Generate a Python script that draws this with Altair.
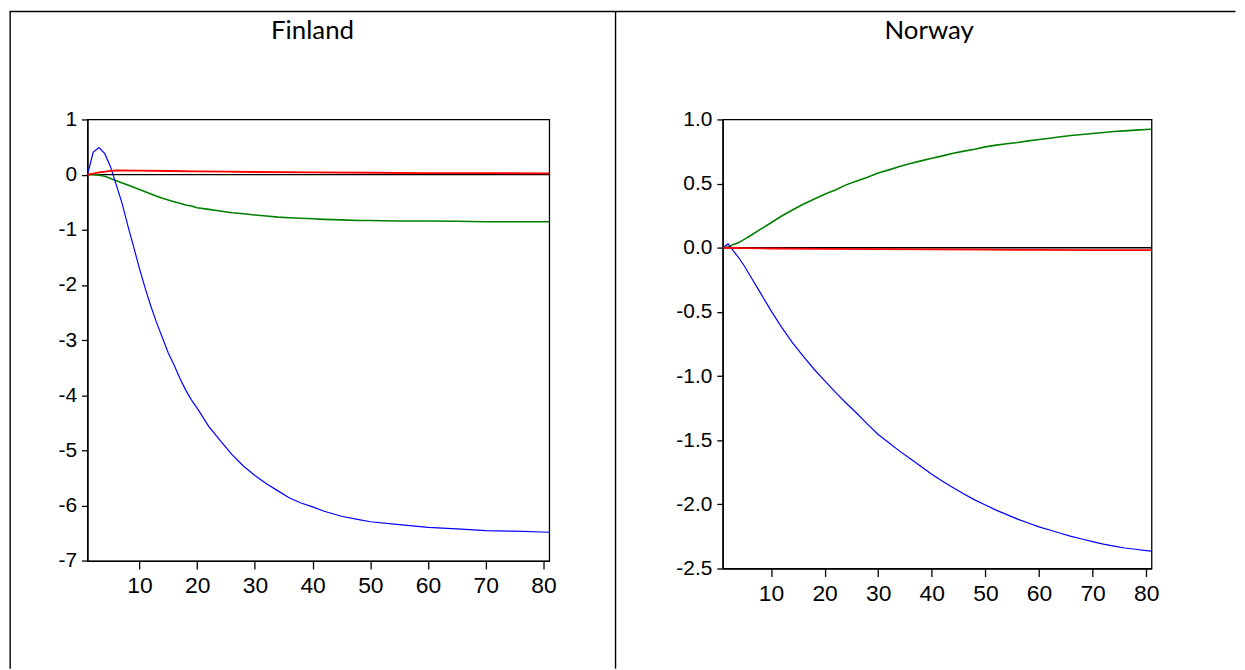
import altair as alt
import pandas as pd

# ---------------- data ----------------
titles = ["Finland", "Norway"]
x_ticks = [10, 20, 30, 40, 50, 60, 70, 80]
fin_y_ticks = [-7, -6, -5, -4, -3, -2, -1, 0, 1]
nor_y_ticks = [-2.5, -2.0, -1.5, -1.0, -0.5, 0.0, 0.5, 1.0]

fin_periods = [1, 2, 3, 4, 5, 6, 7, 8, 9, 10, 11, 12, 13, 14, 15, 16, 17, 18, 19, 20,
               22, 24, 26, 28, 30, 32, 34, 36, 38, 40, 42, 45, 48, 50, 55, 60, 65, 70, 75, 81]
fin_blue = [0, 0.41, 0.49, 0.38, 0.14, -0.19, -0.52, -0.93, -1.31, -1.70,
            -2.06, -2.39, -2.69, -2.96, -3.23, -3.45, -3.69, -3.90, -4.08, -4.23,
            -4.56, -4.82, -5.07, -5.28, -5.45, -5.60, -5.73, -5.86, -5.95, -6.02, -6.10,
            -6.19, -6.25, -6.29, -6.34, -6.39, -6.42, -6.45, -6.46, -6.48]
fin_green = [0, 0.0, -0.01, -0.03, -0.07, -0.11, -0.15, -0.19, -0.23, -0.27,
             -0.31, -0.35, -0.39, -0.43, -0.46, -0.49, -0.52, -0.55, -0.57, -0.60,
             -0.63, -0.66, -0.69, -0.71, -0.73, -0.75, -0.77, -0.78, -0.79, -0.80, -0.81,
             -0.82, -0.83, -0.83, -0.84, -0.84, -0.845, -0.855, -0.855, -0.855]
fin_red_periods = [1, 2, 3, 4, 5, 6, 10, 15, 20, 25, 30, 40, 50, 60, 70, 81]
fin_red = [0, 0.02, 0.04, 0.055, 0.068, 0.075, 0.073, 0.066, 0.06, 0.053, 0.048,
           0.042, 0.034, 0.029, 0.026, 0.024]

nor_periods = [1, 2, 3, 4, 5, 6] + list(range(8, 81, 2)) + [81]
nor_blue = [0, 0.03, -0.026, -0.078, -0.14, -0.21, -0.35, -0.49, -0.62, -0.74, -0.845,
            -0.945, -1.035, -1.125, -1.21, -1.29, -1.375, -1.455, -1.52, -1.585, -1.645,
            -1.705, -1.765, -1.82, -1.87, -1.92, -1.965, -2.005, -2.045, -2.08, -2.115,
            -2.145, -2.175, -2.20, -2.225, -2.25, -2.27, -2.29, -2.31, -2.325, -2.34,
            -2.35, -2.36, -2.365]
nor_green = [0, 0.005, 0.026, 0.04, 0.065, 0.09, 0.143, 0.195, 0.247, 0.294, 0.339,
             0.378, 0.417, 0.45, 0.49, 0.52, 0.55, 0.583, 0.607, 0.633, 0.656, 0.677,
             0.698, 0.716, 0.737, 0.753, 0.768, 0.786, 0.80, 0.81, 0.82, 0.833, 0.844,
             0.854, 0.865, 0.875, 0.883, 0.89, 0.898, 0.906, 0.911, 0.917, 0.922, 0.924]
nor_red_periods = [1, 5, 10, 20, 30, 40, 50, 60, 70, 81]
nor_red = [0, -0.003, -0.006, -0.009, -0.011, -0.013, -0.015, -0.017, -0.018, -0.019]

# ---------------- styling ----------------
BLUE, GREEN, RED = "#0000FF", "#008000", "#FF0000"
TICK_FONT = "Liberation Sans Narrow, Arial Narrow, Liberation Sans, sans-serif"
TITLE_FONT = "Lato"
HYPHEN = "replace(datum.label, '\u2212', '-')"

FIN_W, FIN_H = 464.8, 444.4
NOR_W, NOR_H = 431.6, 452.0
SPACING = 174.4


def x_enc():
    return alt.X(
        "period:Q",
        scale=alt.Scale(domain=[1, 81], nice=False, zero=False),
        axis=alt.Axis(values=x_ticks, title=None, tickSize=8, labelPadding=6,
                      labelFontSize=23, labelFlush=False, format="d"),
    )


def y_enc(domain, ticks, fmt):
    return alt.Y(
        "value:Q",
        scale=alt.Scale(domain=domain, nice=False, zero=False),
        axis=alt.Axis(values=ticks, title=None, tickSize=6, labelPadding=5,
                      labelFontSize=21, format=fmt, labelExpr=HYPHEN),
    )


def series(periods, values, color, width, ydom, yticks, fmt):
    df = pd.DataFrame({"period": periods, "value": values})
    return alt.Chart(df).mark_line(color=color, strokeWidth=width, clip=True).encode(
        x=x_enc(), y=y_enc(ydom, yticks, fmt)
    )


def zero_line(ydom, yticks, fmt):
    return alt.Chart(pd.DataFrame({"value": [0]})).mark_rule(
        color="black", strokeWidth=1.3
    ).encode(y=y_enc(ydom, yticks, fmt))


def title_text(label, dx, dy):
    return alt.Chart(pd.DataFrame({"t": [label]})).mark_text(
        font=TITLE_FONT, fontSize=26, color="black", align="center", baseline="middle"
    ).encode(x=alt.value(dx), y=alt.value(dy), text="t:N")


# table borders (decoration, drawn relative to the Finland plot area)
brd = alt.Chart(pd.DataFrame({"a": [0]})).mark_rule(color="black", strokeWidth=1.4)
L, T, D, R, B = -77.8, -108.6, 531.5, 1155.5, 553.0
top_line = brd.encode(x=alt.value(L - 0.7), x2=alt.value(R), y=alt.value(T))
left_line = brd.encode(x=alt.value(L), y=alt.value(T), y2=alt.value(B))
div_line = brd.encode(x=alt.value(D), y=alt.value(T), y2=alt.value(B))

fdom, ffmt = [-7, 1], "d"
finland = alt.layer(
    top_line, left_line, div_line,
    title_text(titles[0], 226.5, -89.3),
    zero_line(fdom, fin_y_ticks, ffmt),
    series(fin_periods, fin_green, GREEN, 1.6, fdom, fin_y_ticks, ffmt),
    series(fin_periods, fin_blue, BLUE, 1.2, fdom, fin_y_ticks, ffmt),
    series(fin_red_periods, fin_red, RED, 1.8, fdom, fin_y_ticks, ffmt),
).properties(width=FIN_W, height=FIN_H)

ndom, nfmt = [-2.5, 1.0], ".1f"
norway = alt.layer(
    title_text(titles[1], 207.8, -89.3),
    zero_line(ndom, nor_y_ticks, nfmt),
    series(nor_periods, nor_green, GREEN, 1.6, ndom, nor_y_ticks, nfmt),
    series(nor_periods, nor_blue, BLUE, 1.2, ndom, nor_y_ticks, nfmt),
    series(nor_red_periods, nor_red, RED, 1.8, ndom, nor_y_ticks, nfmt),
).properties(width=NOR_W, height=NOR_H)

chart = alt.hconcat(finland, norway, spacing=SPACING, bounds="flush").properties(
    padding=0, background="white"
).configure_view(stroke="black", strokeWidth=1.3).configure_axis(
    domainColor="black", domainWidth=1.3, tickColor="black", tickWidth=1.3,
    labelColor="black", labelFont=TICK_FONT, grid=False,
)

chart.save("out.html", embed_options={"renderer": "svg", "actions": False})
